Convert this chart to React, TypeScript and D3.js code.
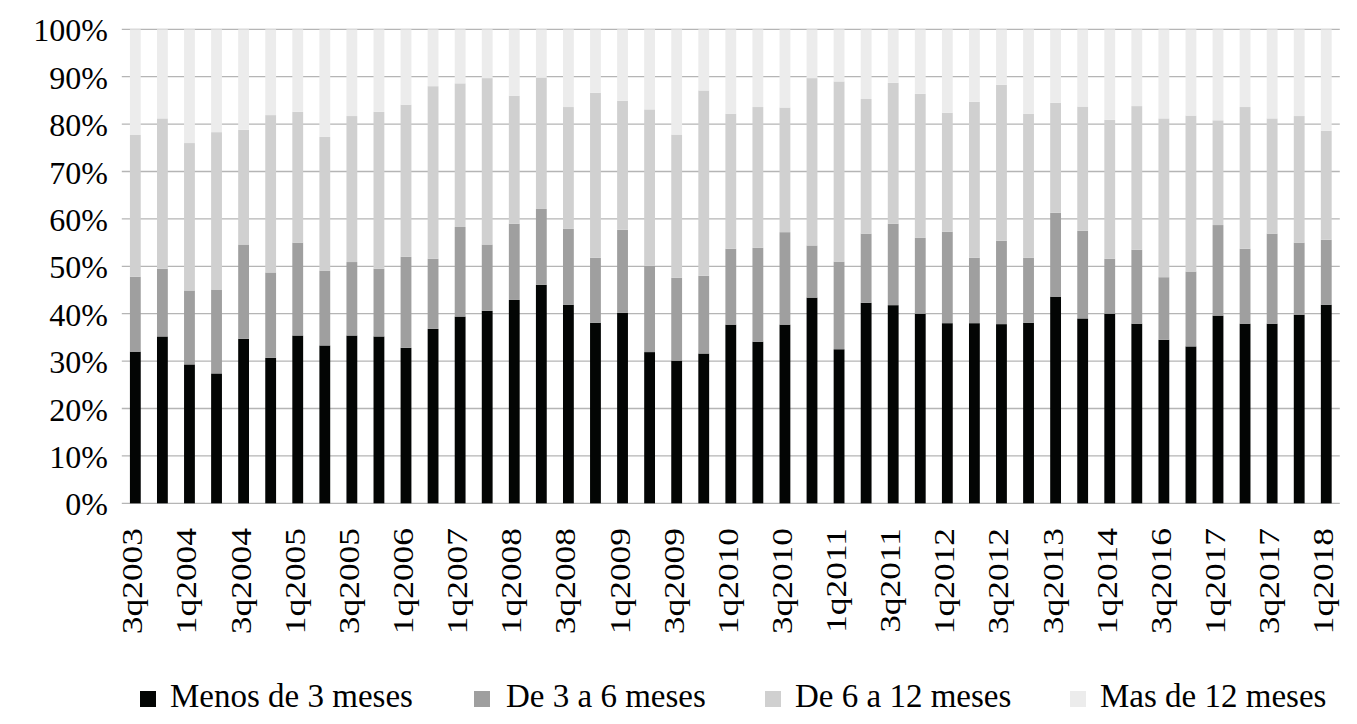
import React from "react";
import * as d3 from "d3";

const categories = [
  "3q2003", "4q2003", "1q2004", "2q2004", "3q2004", "4q2004", "1q2005", "2q2005", "3q2005", "4q2005",
  "1q2006", "3q2006", "1q2007", "3q2007", "1q2008", "2q2008", "3q2008", "4q2008", "1q2009", "2q2009",
  "3q2009", "4q2009", "1q2010", "2q2010", "3q2010", "4q2010", "1q2011", "2q2011", "3q2011", "4q2011",
  "1q2012", "2q2012", "3q2012", "1q2013", "3q2013", "4q2013", "1q2014", "1q2016", "3q2016", "4q2016",
  "1q2017", "2q2017", "3q2017", "4q2017", "1q2018",
];

const menos3 = [
  32.0, 35.2, 29.3, 27.4, 34.7, 30.7, 35.4, 33.3, 35.4, 35.2,
  32.8, 36.8, 39.4, 40.6, 42.9, 46.1, 41.9, 38.1, 40.2, 31.9,
  30.1, 31.6, 37.7, 34.1, 37.7, 43.4, 32.5, 42.3, 41.8, 40.0,
  38.0, 38.0, 37.8, 38.1, 43.6, 39.0, 40.0, 37.9, 34.5, 33.1,
  39.6, 37.9, 37.9, 39.8, 41.9,
];
const de3a6 = [
  15.8, 14.3, 15.6, 17.7, 19.9, 18.0, 19.6, 15.8, 15.5, 14.3,
  19.2, 14.8, 18.9, 14.0, 16.1, 16.0, 16.0, 13.7, 17.5, 18.2,
  17.5, 16.4, 16.0, 19.8, 19.5, 11.0, 18.5, 14.6, 17.2, 16.0,
  19.3, 13.8, 17.6, 13.7, 17.7, 18.5, 11.6, 15.6, 13.2, 15.8,
  19.1, 15.8, 19.0, 15.2, 13.7,
];
const de6a12 = [
  29.9, 31.7, 31.1, 33.2, 24.2, 33.2, 27.6, 28.2, 30.8, 33.1,
  32.1, 36.4, 30.3, 35.1, 27.0, 27.7, 25.7, 34.8, 27.2, 33.0,
  30.2, 39.1, 28.5, 29.7, 26.3, 35.3, 38.0, 28.4, 29.7, 30.4,
  25.1, 32.9, 32.9, 30.4, 23.2, 26.2, 29.3, 30.3, 33.5, 32.9,
  22.1, 29.9, 24.3, 26.7, 23.0,
];
const mas12 = [
  22.3, 18.8, 24.0, 21.7, 21.2, 18.1, 17.4, 22.7, 18.3, 17.4,
  15.9, 12.0, 11.4, 10.3, 14.0, 10.2, 16.4, 13.4, 15.1, 16.9,
  22.2, 12.9, 17.8, 16.4, 16.5, 10.3, 11.0, 14.7, 11.3, 13.6,
  17.6, 15.3, 11.7, 17.8, 15.5, 16.3, 19.1, 16.2, 18.8, 18.2,
  19.2, 16.4, 18.8, 18.3, 21.4,
];

const seriesNames = ["Menos de 3 meses", "De 3 a 6 meses", "De 6 a 12 meses", "Mas de 12 meses"];
const seriesColors = ["#030504", "#9f9f9f", "#d0d0d0", "#ececec"];
const yTicks = [0, 10, 20, 30, 40, 50, 60, 70, 80, 90, 100];

const W = 1357;
const H = 724;
const FONT = "Liberation Serif, Times New Roman, serif";

export default function App() {
  const rows = categories.map((c, i) => ({
    cat: c,
    s0: menos3[i],
    s1: de3a6[i],
    s2: de6a12[i],
    s3: mas12[i],
  }));
  const keys = ["s0", "s1", "s2", "s3"];
  const stacked = d3.stack<any>().keys(keys)(rows);

  const x = d3
    .scaleBand<string>()
    .domain(categories)
    .range([121.8, 1339.8])
    .paddingInner(0.6)
    .paddingOuter(0.3);
  const y = d3.scaleLinear().domain([0, 100]).range([503.3, 29.3]);

  const legendSquareX = [140, 474, 765, 1070];
  const legendTextX = [170, 506, 795, 1100];

  return (
    <svg
      width={W}
      height={H}
      style={{ position: "absolute", left: 0, top: 0, background: "#fff" }}
    >
      <rect x={0} y={0} width={W} height={H} fill="#ffffff" />
      {yTicks.map((t) => (
        <g key={t}>
          <line
            x1={121.8}
            x2={1339.8}
            y1={y(t)}
            y2={y(t)}
            stroke="#b5b5b5"
            strokeWidth={1.3}
          />
          <text
            x={108}
            y={y(t) + 12}
            textAnchor="end"
            fontSize={32}
            fontFamily={FONT}
            fill="#000"
          >
            {t}%
          </text>
        </g>
      ))}
      {stacked.map((layer, li) => (
        <g key={li} fill={seriesColors[li]}>
          {layer.map((d: any, i: number) => (
            <rect
              key={i}
              x={x(categories[i])}
              width={x.bandwidth()}
              y={y(d[1])}
              height={y(d[0]) - y(d[1])}
            />
          ))}
        </g>
      ))}
      {categories.map((c, i) =>
        i % 2 === 0 ? (
          <text
            key={c}
            transform={`translate(${(x(c) as number) + x.bandwidth() / 2 + 7},528) rotate(-90) scale(1.18,1)`}
            textAnchor="end"
            fontSize={30}
            fontFamily={FONT}
            fill="#000"
          >
            {c}
          </text>
        ) : null
      )}
      {seriesNames.map((n, i) => (
        <g key={n}>
          <rect x={legendSquareX[i]} y={691} width={16} height={16} fill={seriesColors[i]} />
          <text x={legendTextX[i]} y={707} fontSize={33} fontFamily={FONT} fill="#000">
            {n}
          </text>
        </g>
      ))}
    </svg>
  );
}
